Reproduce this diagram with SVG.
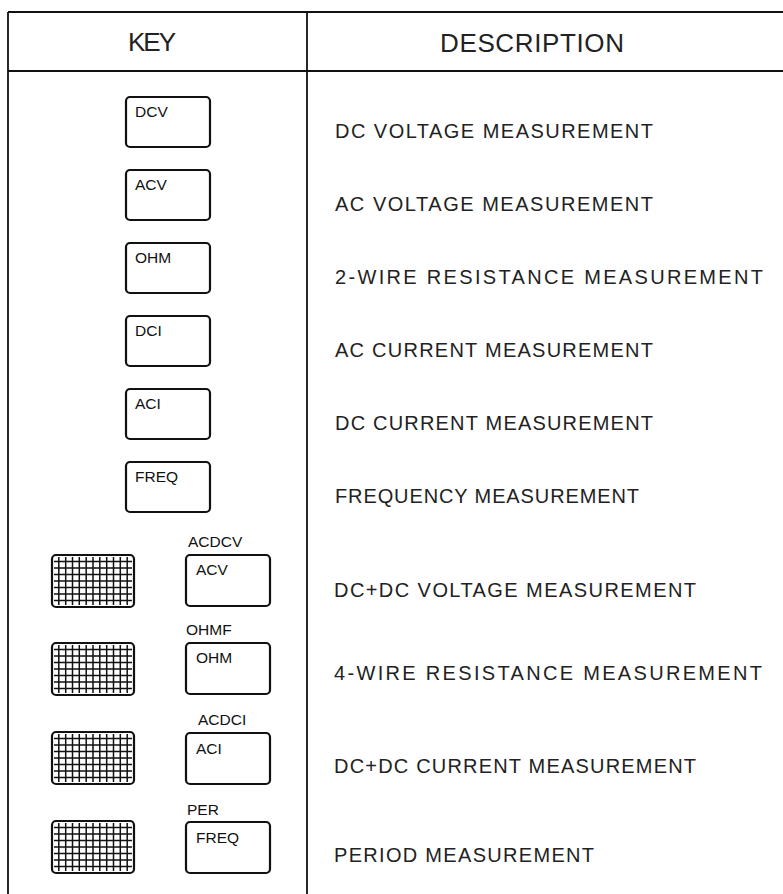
<svg xmlns="http://www.w3.org/2000/svg" width="783" height="894" viewBox="0 0 783 894">
<defs>
<style>
.rule{stroke:#111;stroke-width:1.8;fill:none}
.key{fill:#fff;stroke:#111;stroke-width:2.2}
.kl{font-family:"Liberation Sans",Arial,sans-serif;font-size:15.5px;fill:#111}
.sl{font-family:"Liberation Sans",Arial,sans-serif;font-size:15.5px;fill:#111}
.hd{font-family:"Liberation Sans",Arial,sans-serif;font-size:26px;fill:#222}
.ds{font-family:"Liberation Sans",Arial,sans-serif;font-size:20px;fill:#222}
.gl{stroke:#111;stroke-width:1.5;fill:none}
</style>
<g id="grid">
<rect class="key" x="0" y="0" width="82" height="52" rx="4"/>
<path class="gl" d="M6.8 2V50M13.7 2V50M20.5 2V50M27.3 2V50M34.2 2V50M41 2V50M47.8 2V50M54.7 2V50M61.5 2V50M68.3 2V50M75.2 2V50M2 6.5H80M2 13H80M2 19.5H80M2 26H80M2 32.5H80M2 39H80M2 45.5H80"/>
</g>
</defs>
<rect width="783" height="894" fill="#fff"/>
<g id="table">
<path class="rule" d="M8 12H783M8 71H783M8 12V894M307 12V894"/>
<text class="hd" x="128" y="51" textLength="48" lengthAdjust="spacing">KEY</text>
<text class="hd" x="440" y="52" textLength="184" lengthAdjust="spacing">DESCRIPTION</text>
</g>
<g id="row-dcv">
<rect class="key" x="126" y="97" width="84" height="50" rx="4"/>
<text class="kl" x="135" y="117">DCV</text>
<text class="ds" x="335" y="138" textLength="318" lengthAdjust="spacing">DC VOLTAGE MEASUREMENT</text>
</g>
<g id="row-acv">
<rect class="key" x="126" y="170" width="84" height="50" rx="4"/>
<text class="kl" x="135" y="190">ACV</text>
<text class="ds" x="335" y="211" textLength="318" lengthAdjust="spacing">AC VOLTAGE MEASUREMENT</text>
</g>
<g id="row-ohm">
<rect class="key" x="126" y="243" width="84" height="50" rx="4"/>
<text class="kl" x="135" y="263">OHM</text>
<text class="ds" x="335" y="284" textLength="428" lengthAdjust="spacing">2-WIRE RESISTANCE MEASUREMENT</text>
</g>
<g id="row-dci">
<rect class="key" x="126" y="316" width="84" height="50" rx="4"/>
<text class="kl" x="135" y="336">DCI</text>
<text class="ds" x="335" y="357" textLength="318" lengthAdjust="spacing">AC CURRENT MEASUREMENT</text>
</g>
<g id="row-aci">
<rect class="key" x="126" y="389" width="84" height="50" rx="4"/>
<text class="kl" x="135" y="409">ACI</text>
<text class="ds" x="335" y="430" textLength="318" lengthAdjust="spacing">DC CURRENT MEASUREMENT</text>
</g>
<g id="row-freq">
<rect class="key" x="126" y="462" width="84" height="50" rx="4"/>
<text class="kl" x="135" y="482">FREQ</text>
<text class="ds" x="335" y="503" textLength="304" lengthAdjust="spacing">FREQUENCY MEASUREMENT</text>
</g>
<g id="row-acdcv">
<use href="#grid" x="52" y="555"/>
<text class="sl" x="188" y="547">ACDCV</text>
<rect class="key" x="186" y="555" width="84" height="51" rx="4"/>
<text class="kl" x="196" y="575">ACV</text>
<text class="ds" x="334" y="597" textLength="362" lengthAdjust="spacing">DC+DC VOLTAGE MEASUREMENT</text>
</g>
<g id="row-ohmf">
<use href="#grid" x="52" y="643"/>
<text class="sl" x="186" y="635">OHMF</text>
<rect class="key" x="186" y="643" width="84" height="51" rx="4"/>
<text class="kl" x="196" y="663">OHM</text>
<text class="ds" x="334" y="680" textLength="428" lengthAdjust="spacing">4-WIRE RESISTANCE MEASUREMENT</text>
</g>
<g id="row-acdci">
<use href="#grid" x="52" y="732"/>
<text class="sl" x="198" y="725">ACDCI</text>
<rect class="key" x="186" y="733" width="84" height="51" rx="4"/>
<text class="kl" x="196" y="754">ACI</text>
<text class="ds" x="334" y="773" textLength="362" lengthAdjust="spacing">DC+DC CURRENT MEASUREMENT</text>
</g>
<g id="row-per">
<use href="#grid" x="52" y="821"/>
<text class="sl" x="187" y="815">PER</text>
<rect class="key" x="186" y="822" width="84" height="51" rx="4"/>
<text class="kl" x="196" y="843">FREQ</text>
<text class="ds" x="334" y="862" textLength="260" lengthAdjust="spacing">PERIOD MEASUREMENT</text>
</g>
</svg>
